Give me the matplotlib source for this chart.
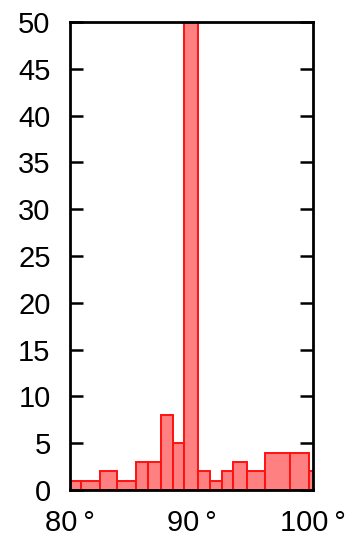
import numpy as np
import matplotlib.pyplot as plt

# histogram bin edges (degrees) and counts per bin
bin_edges = [79.5, 80.88, 82.44, 83.89, 85.41, 86.44, 87.47, 88.50, 89.42,
             90.53, 91.52, 92.49, 93.44, 94.54, 96.05, 98.11, 99.70, 100.5]
counts = [1, 1, 2, 1, 3, 3, 8, 5, 60, 2, 1, 2, 3, 2, 4, 4, 2]

x_ticks = [80, 90, 100]
x_labels = ["80\u2009°", "90\u2009°", "100\u2009°"]
y_ticks = list(range(0, 51, 5))

plt.rcParams['font.family'] = ['Liberation Sans', 'DejaVu Sans']

fig = plt.figure(figsize=(3.49, 5.37), dpi=100)
ax = fig.add_axes([0.2006, 0.0875, 0.6962, 0.8715])

edges = np.array(bin_edges)
ax.bar(edges[:-1], counts, width=np.diff(edges), align='edge',
       color='#ff8080', edgecolor='#ff1010', linewidth=1.4, zorder=1)

ax.set_xlim(80, 100)
ax.set_ylim(0, 50)
ax.set_xticks(x_ticks)
ax.set_xticklabels(x_labels)
ax.set_yticks(y_ticks)

for s in ax.spines.values():
    s.set_linewidth(2.0)
    s.set_zorder(3)

ax.tick_params(axis='y', which='both', direction='in', length=9.5, width=1.8,
               left=True, right=True, labelsize=21, pad=14)
ax.tick_params(axis='x', which='both', length=0, labelsize=21, pad=14)

fig.savefig("out.png", dpi=100)
